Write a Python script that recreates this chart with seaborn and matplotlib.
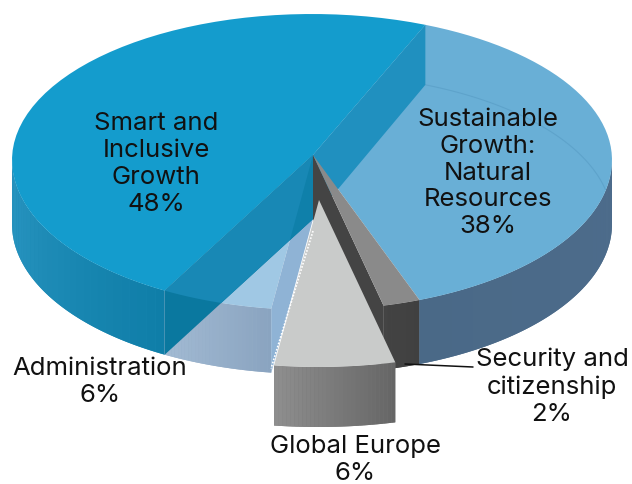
import numpy as np
import matplotlib
matplotlib.use("Agg")
import matplotlib.pyplot as plt
from matplotlib.patches import Polygon
import seaborn as sns

# =====================================================================
# DATA
# =====================================================================
categories = ["Smart and\nInclusive\nGrowth", "Administration", "Global Europe",
              "Security and\ncitizenship", "Sustainable\nGrowth:\nNatural\nResources"]
shares = [48, 6, 6, 2, 38]
label_xy = [(156, 164), (100, 382), (355, 460), (552, 387), (488, 173)]

# =====================================================================
# PIE GEOMETRY
# =====================================================================
CX, CY = 312, 160
RX, RY, RY_FRONT = 300, 146, 150
DEPTH = 64
START = 67.8
APEX = (313, 155)


def rim(t, off=(0, 0), scale=1.0, depth=0):
    t = np.radians(t)
    s = np.sin(-t)
    ry = np.where(s > 0, RY_FRONT, RY)
    return np.column_stack([
        CX + off[0] + scale * RX * np.cos(t),
        CY + off[1] + depth + scale * ry * s,
    ])


def arc(a, b, **kw):
    return rim(np.linspace(a, b, 60), **kw)


def wall(ax, a, b, c1, c2, zorder=2, depth=DEPTH, **kw):
    # outer wall as thin strips over a solid base, gives the shaded look
    n = 30
    base = np.vstack([arc(a, b, **kw), arc(b, a, depth=depth, **kw)])
    cols = sns.blend_palette([c1, c2], n)
    ax.fill(*base.T, color=cols[n // 2], lw=0, zorder=zorder)
    ts = np.linspace(a, b, n + 1)
    for i in range(n):
        strip = np.vstack([arc(ts[i], ts[i + 1], **kw), arc(ts[i + 1], ts[i], depth=depth, **kw)])
        ax.fill(*strip.T, color=cols[i], lw=0, zorder=zorder)


sns.set_theme(style="white")
plt.rcParams["font.family"] = ["Inter", "Liberation Sans", "DejaVu Sans"]

fig = plt.figure(figsize=(6.32, 4.84), dpi=100)
ax = fig.add_axes([0, 0, 1, 1])
ax.set_xlim(0, 632)
ax.set_ylim(484, 0)
ax.axis("off")

# slice boundaries from the shares, running counter-clockwise
angles = START + np.cumsum([0] + shares) * 3.6
a_smart, a_admin, a_global, a_sec = angles[1:5]
apex = np.array(APEX, dtype=float)
apex_low = apex + [0, DEPTH]

# outer walls
wall(ax, 180, a_smart, "#2a96c2", "#0f7ea8")
wall(ax, a_smart, a_admin, "#a2bad3", "#8aa4c0")
wall(ax, a_global, a_sec, "#444444", "#404040")
wall(ax, a_sec, 360, "#4a6987", "#4d6c8c")

# top faces
sust = np.vstack([apex, arc(a_sec - 360, START)])
ax.fill(*sust.T, color="#69afd6", lw=0, zorder=3)
admin_top = np.vstack([apex, arc(a_smart, a_admin)])
ax.fill(*admin_top.T, color="#a0c8e4", lw=0, zorder=3)
smart_top = np.vstack([apex, arc(START, a_smart)])
ax.fill(*smart_top.T, color="#149ccd", lw=0, zorder=3)

# back rim showing faintly through the sustainable face
ax.plot(*arc(START, 12, depth=DEPTH - 4).T, color="#5ea3cb", lw=0.8, zorder=4)

# inner wall behind the sustainable face
pb = rim(START)[0]
band = np.vstack([apex, pb, pb + [0, DEPTH - 4], apex_low])
ax.fill(*band.T, color="#2090bf", lw=0, zorder=4)

# inner wall of the administration slice
pa = rim(a_admin)[0]
admin_wall = np.vstack([apex, pa, pa + [0, DEPTH], apex_low])
ax.add_patch(Polygon(admin_wall, color="#8fb3d5", lw=0, zorder=4))

# inner wall of the smart slice: lighter over the top face, darker below it
pc = rim(a_smart)[0]
smart_wall = np.vstack([apex, pc, pc + [0, DEPTH], apex_low])
ax.add_patch(Polygon(smart_wall, color="#0a789f", lw=0, zorder=5))
top_clip = Polygon(rim(np.linspace(0, 360, 240)), transform=ax.transData)
upper = Polygon(smart_wall, color="#1888b5", lw=0, zorder=5.1)
ax.add_patch(upper)
upper.set_clip_path(top_clip)
fan = Polygon(admin_wall, color="#0f80aa", lw=0, zorder=5.2)
ax.add_patch(fan)
fan.set_clip_path(Polygon(smart_wall, transform=ax.transData))

# security slice
ps = rim(a_global)[0]
sec_in = np.vstack([apex, ps, ps + [0, DEPTH], apex_low])
ax.fill(*sec_in.T, color="#444444", lw=0, zorder=6)
sec_top = np.vstack([apex, arc(a_global, a_sec)])
ax.fill(*sec_top.T, color="#8a8a8a", lw=0, zorder=6.1)

# global europe slice, pulled out of the pie
off = (6, 45)
scale = 1.08
ga = apex + off
wall(ax, a_admin, a_global, "#8e8e8e", "#666666", zorder=7, depth=60, off=off, scale=scale)
g_top = np.vstack([ga, arc(a_admin, a_global, off=off, scale=scale)])
ax.fill(*g_top.T, color="#c9cbca", lw=0, zorder=7.1)
g_left = rim(a_admin, off=off, scale=scale)[0]
ax.plot([apex_low[0], g_left[0] - 3], [apex_low[1] + 12, g_left[1] + 3],
        color="white", lw=1.2, ls=(0, (1, 1)), zorder=7.2)

# leader line
ax.plot([405, 473], [364, 367], color="#111111", lw=1.1, zorder=8)

# labels
for name, share, (x, y) in zip(categories, shares, label_xy):
    ax.text(x, y, f"{name}\n{share}%", ha="center", va="center", fontsize=18.5,
            color="#111111", linespacing=1.22, zorder=9)

fig.savefig("out.png", dpi=100)
